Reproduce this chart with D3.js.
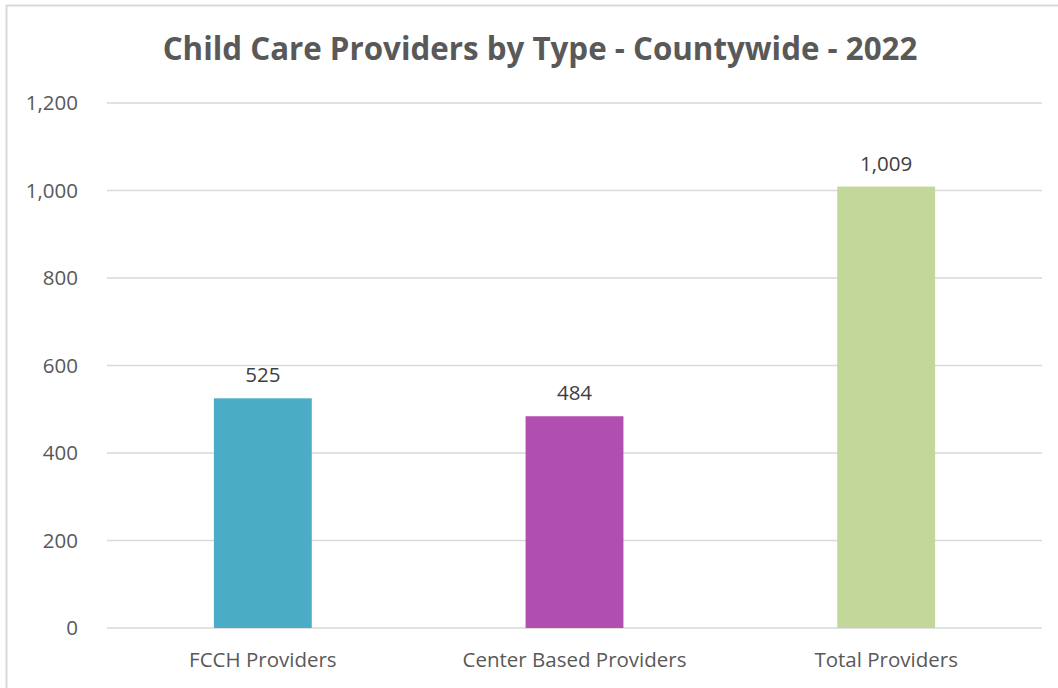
<!DOCTYPE html>
<html>
<head>
<meta charset="utf-8">
<script src="https://cdn.jsdelivr.net/npm/d3@7/dist/d3.min.js"></script>
<style>
  html, body { margin: 0; padding: 0; background: #fff; }
  svg { display: block; }
</style>
</head>
<body>
<svg id="chart" width="1058" height="688"></svg>
<script>
const categories = ["FCCH Providers", "Center Based Providers", "Total Providers"];
const values = [525, 484, 1009];
const barColors = ["#4BACC6", "#B14FB0", "#C4D79B"];
const yTicks = [0, 200, 400, 600, 800, 1000, 1200];
const title = "Child Care Providers by Type - Countywide - 2022";

const svg = d3.select("#chart");
const W = 1058, H = 688;
const font = "'Open Sans', 'Noto Sans', sans-serif";
const labelSize = 20.5;

// chart area frame
svg.append("rect")
  .attr("x", 6.5).attr("y", 5.5)
  .attr("width", W + 10).attr("height", H + 10)
  .attr("fill", "#fff").attr("stroke", "#D9D9D9").attr("stroke-width", 2);

const plot = { left: 107, right: 1042, top: 103, bottom: 628 };

const x = d3.scaleBand()
  .domain(categories)
  .range([plot.left, plot.right])
  .paddingInner(0.686)
  .paddingOuter(0.343);

const y = d3.scaleLinear()
  .domain([0, 1200])
  .range([plot.bottom, plot.top]);

// gridlines
svg.append("g")
  .selectAll("line")
  .data(yTicks)
  .join("line")
  .attr("x1", plot.left).attr("x2", plot.right)
  .attr("y1", d => y(d)).attr("y2", d => y(d))
  .attr("stroke", "#D9D9D9").attr("stroke-width", 1.5);

// y axis labels
const yAxis = d3.axisLeft(y).tickValues(yTicks).tickFormat(d3.format(",")).tickSize(0).tickPadding(0);
const yg = svg.append("g").attr("transform", `translate(78,0)`).call(yAxis);
yg.select(".domain").remove();
yg.selectAll("text")
  .attr("font-family", font).attr("font-size", labelSize).attr("fill", "#595959");

// bars
svg.append("g")
  .selectAll("rect")
  .data(values)
  .join("rect")
  .attr("x", (d, i) => x(categories[i]))
  .attr("width", x.bandwidth())
  .attr("y", d => y(d))
  .attr("height", d => y(0) - y(d))
  .attr("fill", (d, i) => barColors[i]);

// value labels
svg.append("g")
  .selectAll("text")
  .data(values)
  .join("text")
  .attr("x", (d, i) => x(categories[i]) + x.bandwidth() / 2)
  .attr("y", d => y(d) - 16)
  .attr("text-anchor", "middle")
  .attr("font-family", font).attr("font-size", labelSize).attr("fill", "#404040")
  .text(d => d3.format(",")(d));

// x axis labels
const xAxis = d3.axisBottom(x).tickSize(0).tickPadding(0);
const xg = svg.append("g").attr("transform", `translate(0,${plot.bottom + 39})`).call(xAxis);
xg.select(".domain").remove();
xg.selectAll("text")
  .attr("dy", 0)
  .attr("font-family", font).attr("font-size", labelSize).attr("fill", "#595959");

// title
const t = svg.append("text")
  .attr("x", 540).attr("y", 60)
  .attr("text-anchor", "middle")
  .attr("font-family", font).attr("font-weight", "bold")
  .attr("font-size", 28).attr("fill", "#595959")
  .text(title);
const tw = t.node().getComputedTextLength();
if (tw > 0) t.attr("font-size", 28 * 755 / tw);
</script>
</body>
</html>
